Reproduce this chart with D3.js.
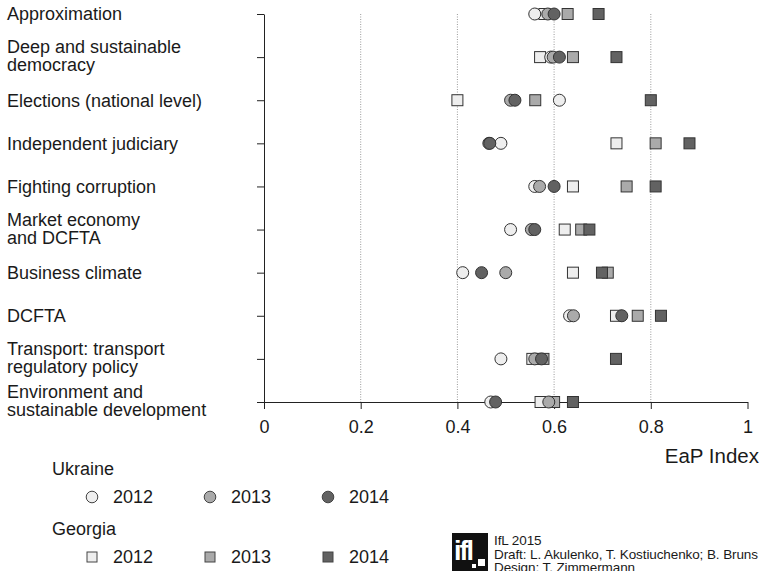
<!DOCTYPE html>
<html>
<head>
<meta charset="utf-8">
<script src="https://cdn.jsdelivr.net/npm/d3@7"></script>
<style>
  body { margin: 0; background: #fff; }
  svg { font-family: "Liberation Sans", Arial, Helvetica, sans-serif; }
</style>
</head>
<body>
<div id="chart"></div>
<script>
// categories (one entry per row, lines of the label)
const categories = [
    ["Approximation"],
    ["Deep and sustainable", "democracy"],
    ["Elections (national level)"],
    ["Independent judiciary"],
    ["Fighting corruption"],
    ["Market economy", "and DCFTA"],
    ["Business climate"],
    ["DCFTA"],
    ["Transport: transport", "regulatory policy"],
    ["Environment and", "sustainable development"]
];

const ukraine2012 = [0.560, 0.593, 0.611, 0.490, 0.560, 0.510, 0.411, 0.632, 0.490, 0.469];
const ukraine2013 = [0.587, 0.598, 0.510, 0.465, 0.570, 0.553, 0.500, 0.640, 0.560, 0.589];
const ukraine2014 = [0.600, 0.611, 0.519, 0.467, 0.600, 0.560, 0.450, 0.740, 0.574, 0.479];

const georgia2012 = [0.580, 0.571, 0.400, 0.729, 0.639, 0.622, 0.639, 0.728, 0.555, 0.572];
const georgia2013 = [0.628, 0.639, 0.561, 0.810, 0.750, 0.656, 0.711, 0.773, 0.578, 0.600];
const georgia2014 = [0.692, 0.729, 0.800, 0.880, 0.810, 0.673, 0.699, 0.821, 0.728, 0.639];

const xTicks = [0, 0.2, 0.4, 0.6, 0.8, 1];
const gridTicks = [0.2, 0.4, 0.6, 0.8];
const years = ["2012", "2013", "2014"];

const fills = { "2012": "#eeeeee", "2013": "#aaaaaa", "2014": "#626262" };
const strokeColor = "#333333";

const width = 765, height = 571;
const rowIds = categories.map((c, i) => i);

const svg = d3.select("#chart").append("svg")
    .attr("width", width)
    .attr("height", height);

const xScale = d3.scaleLinear()
    .domain([0, 1])
    .range([264, 747.5]);

const yScale = d3.scalePoint()
    .domain(rowIds)
    .range([14, 402]);

// dotted grid
svg.append("g")
    .selectAll("line")
    .data(gridTicks)
    .join("line")
    .attr("x1", d => xScale(d))
    .attr("x2", d => xScale(d))
    .attr("y1", 14)
    .attr("y2", 402)
    .attr("stroke", "#9a9a9a")
    .attr("stroke-width", 1)
    .attr("stroke-dasharray", "1,1.5");

// y axis (ticks only, labels drawn by hand for line breaks)
const yAxis = svg.append("g")
    .attr("transform", "translate(264,0)")
    .call(d3.axisLeft(yScale).tickSize(7).tickSizeOuter(0).tickFormat(""));
yAxis.select(".domain").attr("stroke", "#222");
yAxis.selectAll(".tick line").attr("stroke", "#222");

const labels = svg.append("g")
    .attr("font-size", 18)
    .attr("fill", "#1a1a1a");
categories.forEach((lines, i) => {
    const y0 = yScale(i);
    const t = labels.append("text")
        .attr("x", 7);
    if (lines.length === 1) {
        t.attr("y", y0).attr("dy", "0.35em").text(lines[0]);
    } else {
        lines.forEach((ln, j) => {
            t.append("tspan")
                .attr("x", 7)
                .attr("y", y0 - 4 + j * 18)
                .text(ln);
        });
    }
});

// x axis
const xAxis = svg.append("g")
    .attr("transform", "translate(0,402)")
    .call(d3.axisBottom(xScale).tickValues(xTicks).tickSize(7).tickSizeOuter(0).tickPadding(11)
        .tickFormat(d => d === 0 || d === 1 ? d3.format("d")(d) : d3.format(".1f")(d)));
xAxis.select(".domain").attr("stroke", "#222");
xAxis.selectAll(".tick line").attr("stroke", "#222");
xAxis.selectAll("text")
    .attr("font-size", 18)
    .attr("font-family", "Liberation Sans, Arial, sans-serif")
    .attr("fill", "#1a1a1a");

svg.append("text")
    .attr("x", 759)
    .attr("y", 463)
    .attr("text-anchor", "end")
    .attr("font-size", 20.5)
    .attr("fill", "#1a1a1a")
    .text("EaP Index");

// Georgia squares first, Ukraine circles on top
const georgia = { "2012": georgia2012, "2013": georgia2013, "2014": georgia2014 };
const ukraine = { "2012": ukraine2012, "2013": ukraine2013, "2014": ukraine2014 };
const sq = 11, rad = 6;

years.forEach(yr => {
    svg.append("g")
        .selectAll("rect")
        .data(georgia[yr])
        .join("rect")
        .attr("x", (d, i) => xScale(d) - sq / 2)
        .attr("y", (d, i) => yScale(i) - sq / 2)
        .attr("width", sq)
        .attr("height", sq)
        .attr("fill", fills[yr])
        .attr("stroke", strokeColor)
        .attr("stroke-width", 1);
});

years.forEach(yr => {
    svg.append("g")
        .selectAll("circle")
        .data(ukraine[yr])
        .join("circle")
        .attr("cx", (d, i) => xScale(d))
        .attr("cy", (d, i) => yScale(i))
        .attr("r", rad)
        .attr("fill", fills[yr])
        .attr("stroke", strokeColor)
        .attr("stroke-width", 1);
});

// legend
const legend = svg.append("g")
    .attr("font-size", 18)
    .attr("fill", "#1a1a1a");
const legendX = [92, 210, 328];

legend.append("text").attr("x", 52).attr("y", 475).text("Ukraine");
legend.append("text").attr("x", 52).attr("y", 535).text("Georgia");

years.forEach((yr, i) => {
    legend.append("circle")
        .attr("cx", legendX[i])
        .attr("cy", 497)
        .attr("r", 5.8)
        .attr("fill", fills[yr])
        .attr("stroke", "#444")
        .attr("stroke-width", 1);
    legend.append("text")
        .attr("x", legendX[i] + 21)
        .attr("y", 503)
        .text(yr);
    legend.append("rect")
        .attr("x", legendX[i] - 5)
        .attr("y", 552)
        .attr("width", 10)
        .attr("height", 10)
        .attr("fill", fills[yr])
        .attr("stroke", "#444")
        .attr("stroke-width", 1);
    legend.append("text")
        .attr("x", legendX[i] + 21)
        .attr("y", 563)
        .text(yr);
});

// logo + credits
const logo = svg.append("g");
logo.append("rect")
    .attr("x", 452).attr("y", 533)
    .attr("width", 36).attr("height", 40)
    .attr("fill", "#111");
logo.append("text")
    .attr("x", 454).attr("y", 560)
    .attr("font-size", 27)
    .attr("font-weight", "bold")
    .attr("fill", "#fff")
    .attr("letter-spacing", -2)
    .text("ifl");
logo.append("rect")
    .attr("x", 478).attr("y", 559)
    .attr("width", 7).attr("height", 7)
    .attr("fill", "#fff");
logo.append("rect")
    .attr("x", 472).attr("y", 564)
    .attr("width", 4).attr("height", 4)
    .attr("fill", "#fff");

const credits = ["IfL 2015", "Draft: L. Akulenko, T. Kostiuchenko; B. Bruns", "Design: T. Zimmermann"];
svg.append("g")
    .attr("font-size", 13.5)
    .attr("fill", "#1a1a1a")
    .selectAll("text")
    .data(credits)
    .join("text")
    .attr("x", 494)
    .attr("y", (d, i) => 545 + i * 13.5)
    .attr("letter-spacing", -0.1)
    .text(d => d);
</script>
</body>
</html>
